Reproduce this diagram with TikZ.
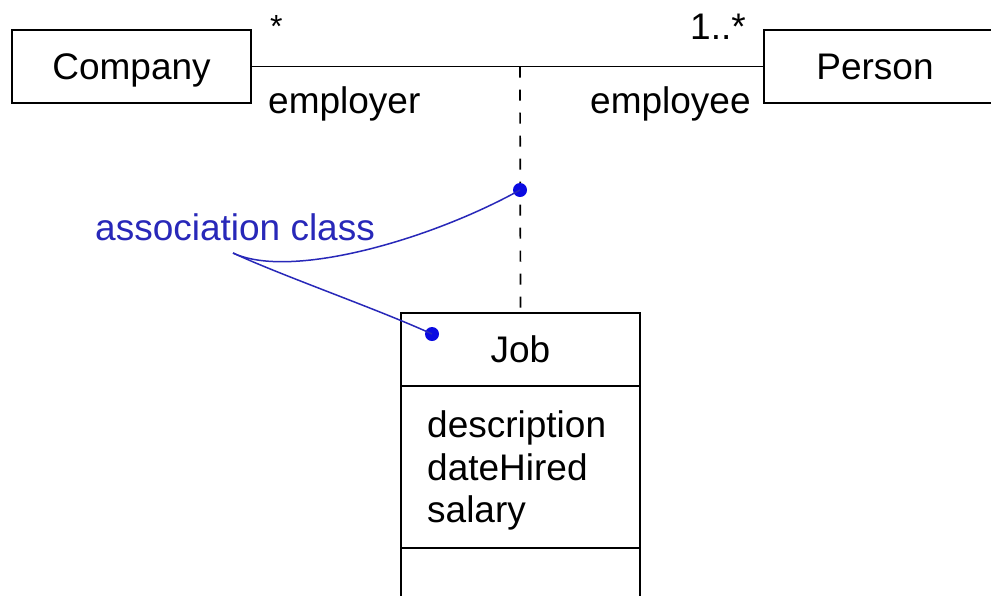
\documentclass[tikz,border=0pt]{standalone}
\usepackage{fontspec}
\setmainfont{Liberation Sans}
\begin{document}
\begin{tikzpicture}[x=1pt,y=-1pt,
  every node/.style={font=\fontsize{37}{43}\selectfont},
  classbox/.style={draw, line width=1.9pt, rectangle, inner sep=0pt, outer sep=0pt, text height=26.5pt, text depth=0pt},
  lbl/.style={inner sep=0pt, anchor=base west},
  note/.style={color=notecol},
  noteline/.style={draw=notecol, line width=1.5pt},
  notedot/.style={fill=dotcol, draw=none, circle, inner sep=0pt, minimum size=14pt}]
\definecolor{notecol}{RGB}{40,40,185}
\definecolor{dotcol}{RGB}{10,10,225}
\clip (0,0) rectangle (991,595);
\fill[white] (0,0) rectangle (991,595);
% classes
\node[classbox, minimum width=239pt, minimum height=73pt] (company) at (131.5,66.5) {Company};
\node[classbox, minimum width=240pt, minimum height=73pt] (person) at (884,66.5) {};
\node[inner sep=0pt, text height=26.5pt, text depth=0pt] (personlabel) at (875,66.5) {Person};
\node[classbox, minimum width=239pt, minimum height=73pt] (jobname) at (520.5,349.5) {Job};
\node[classbox, minimum width=239pt, minimum height=162pt, anchor=north] (jobattr) at (jobname.south) {};
\node[classbox, minimum width=239pt, minimum height=80pt, anchor=north] (jobops) at (jobattr.south) {};
\node[lbl] (attr1) at (427,437) {description};
\node[lbl] (attr2) at (427,480) {dateHired};
\node[lbl] (attr3) at (427,522) {salary};
% association
\draw[line width=1.9pt] (company.east) -- (person.west);
\coordinate (junction) at (520,66.5);
\draw[line width=1.7pt, dash pattern=on 11pt off 12pt] (junction) -- (jobname.north);
% multiplicities and roles
\node[lbl, font=\fontsize{32}{38}\selectfont] (mstar) at (270,37) {*};
\node[lbl] (mmany) at (690,39) {1..*};
\node[lbl] (employer) at (268,113) {employer};
\node[lbl] (employee) at (590,113) {employee};
% note
\node[lbl, note] (assoc) at (95,240) {association class};
\coordinate (lead) at (233,253);
\node[notedot] (dotline) at (520,190) {};
\node[notedot] (dotjob) at (432,334) {};
\draw[noteline] (lead) .. controls (290,280) and (430,240) .. (dotline.center);
\draw[noteline] (lead) .. controls (280,275) and (380,310) .. (dotjob.center);
\end{tikzpicture}
\end{document}
